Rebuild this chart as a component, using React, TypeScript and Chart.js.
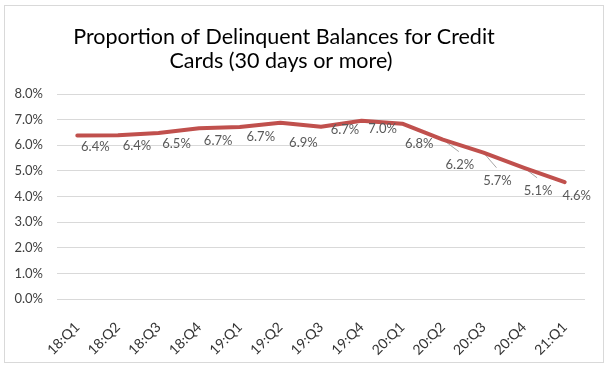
import React, { useEffect, useRef } from "react";
import { Chart, registerables } from "chart.js";

Chart.register(...registerables);

const categories = [
  "18:Q1", "18:Q2", "18:Q3", "18:Q4",
  "19:Q1", "19:Q2", "19:Q3", "19:Q4",
  "20:Q1", "20:Q2", "20:Q3", "20:Q4",
  "21:Q1",
];
const delinquentShare = [6.38, 6.39, 6.48, 6.66, 6.71, 6.88, 6.72, 6.96, 6.84, 6.22, 5.71, 5.12, 4.56];
const titleLines = ["Proportion of Delinquent Balances for Credit", "Cards (30 days or more)"];
const yMin = 0;
const yMax = 8;
const yStep = 1;

// label placement (style config, relative to each point)
const labelOffsets: [number, number][] = [
  [18, 11], [19, 11], [18, 11], [19, 12], [21, 10], [23, 20], [24, 3],
  [21, 8], [17, 20], [17, 25], [14, 28], [14, 23], [12, 14],
];
const leaderIndices = [9, 10, 11];

const FONT = "Lato, 'Liberation Sans', sans-serif";

const decor = {
  id: "decor",
  beforeDraw(chart: any) {
    const ctx = chart.ctx;
    ctx.save();
    ctx.fillStyle = "#ffffff";
    ctx.fillRect(0, 0, chart.width, chart.height);
    ctx.strokeStyle = "#D9D9D9";
    ctx.lineWidth = 1;
    ctx.strokeRect(4.5, 5.5, 599, 357);
    ctx.restore();
  },
  beforeDatasetsDraw(chart: any) {
    const ctx = chart.ctx;
    const meta = chart.getDatasetMeta(0);
    ctx.save();
    ctx.strokeStyle = "#A6A6A6";
    ctx.lineWidth = 1;
    leaderIndices.forEach((i) => {
      const p = meta.data[i];
      const [dx, dy] = labelOffsets[i];
      ctx.beginPath();
      ctx.moveTo(p.x, p.y);
      ctx.lineTo(p.x + dx - 1, p.y + dy - 13);
      ctx.stroke();
    });
    ctx.restore();
  },
  afterDatasetsDraw(chart: any) {
    const ctx = chart.ctx;
    const meta = chart.getDatasetMeta(0);
    ctx.save();
    ctx.font = `13px ${FONT}`;
    ctx.fillStyle = "#595959";
    ctx.textAlign = "center";
    ctx.textBaseline = "middle";
    delinquentShare.forEach((v, i) => {
      const p = meta.data[i];
      const [dx, dy] = labelOffsets[i];
      ctx.fillText(v.toFixed(1) + "%", p.x + dx, p.y + dy);
    });
    ctx.restore();
  },
  afterDraw(chart: any) {
    const ctx = chart.ctx;
    ctx.save();
    ctx.font = `21.5px ${FONT}`;
    ctx.fillStyle = "#000000";
    ctx.textAlign = "center";
    ctx.textBaseline = "middle";
    ctx.fillText(titleLines[0], 284, 37);
    ctx.fillText(titleLines[1], 281, 61);
    ctx.restore();
  },
};

export default function App() {
  const ref = useRef<HTMLCanvasElement | null>(null);
  useEffect(() => {
    document.body.style.margin = "0";
    const canvas = ref.current;
    if (!canvas) return;
    const chart = new Chart(canvas, {
      type: "line",
      data: {
        labels: categories,
        datasets: [
          {
            data: delinquentShare,
            borderColor: "#C0504D",
            backgroundColor: "#C0504D",
            borderWidth: 4,
            pointRadius: 0,
            tension: 0,
            borderCapStyle: "round",
            borderJoinStyle: "round",
          },
        ],
      },
      options: {
        responsive: false,
        animation: false,
        layout: { padding: { top: 94, right: 23, left: 0, bottom: 0 } },
        plugins: {
          legend: { display: false },
          title: { display: false },
          tooltip: { enabled: false },
        },
        scales: {
          x: {
            offset: true,
            grid: { display: false, drawTicks: false },
            border: { display: false },
            ticks: {
              autoSkip: false,
              minRotation: 45,
              maxRotation: 45,
              padding: 20,
              color: "#333333",
              font: { family: FONT, size: 14 },
            },
            afterFit: (s: any) => {
              s.height = 70;
            },
          },
          y: {
            min: yMin,
            max: yMax,
            grid: { color: "#D9D9D9", drawTicks: false },
            border: { display: false },
            ticks: {
              stepSize: yStep,
              padding: 14,
              color: "#404040",
              font: { family: FONT, size: 13 },
              callback: (v: any) => Number(v).toFixed(1) + "%",
            },
            afterFit: (s: any) => {
              s.width = 57;
            },
          },
        },
      },
      plugins: [decor],
    });
    return () => chart.destroy();
  }, []);
  return (
    <div style={{ width: 608, height: 369 }}>
      <canvas ref={ref} width={608} height={369} style={{ display: "block" }} />
    </div>
  );
}
